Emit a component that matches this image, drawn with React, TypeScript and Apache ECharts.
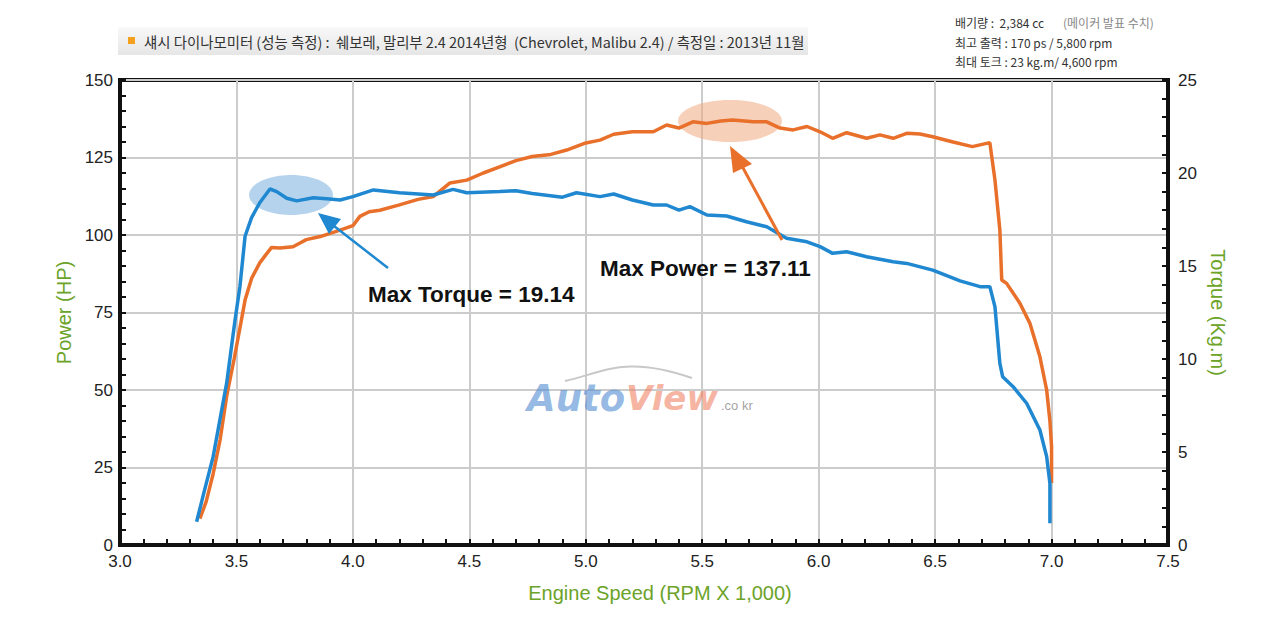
import React, { useEffect, useRef } from "react";
import * as echarts from "echarts";

const powerRpm = [3.343, 3.37, 3.4, 3.43, 3.458, 3.49, 3.515, 3.537, 3.565, 3.6, 3.63, 3.651, 3.687, 3.743, 3.773, 3.8, 3.86, 3.945, 4.0, 4.03, 4.07, 4.116, 4.2, 4.28, 4.345, 4.417, 4.489, 4.56, 4.63, 4.7, 4.77, 4.85, 4.918, 5.0, 5.061, 5.12, 5.2, 5.29, 5.347, 5.4, 5.46, 5.52, 5.58, 5.63, 5.72, 5.777, 5.834, 5.89, 5.95, 6.006, 6.06, 6.12, 6.206, 6.263, 6.32, 6.378, 6.435, 6.49, 6.577, 6.66, 6.735, 6.757, 6.778, 6.786, 6.807, 6.864, 6.907, 6.95, 6.979, 6.993, 7.0, 7.0];
const powerHp = [8.5, 14, 23, 34, 48, 60, 70, 79, 86, 91, 94, 96, 95.8, 96.2, 97.4, 98.5, 99.5, 101.6, 103, 106, 107.5, 108, 109.7, 111.5, 112.4, 116.8, 117.7, 120, 122, 124, 125.3, 126, 127.4, 129.7, 130.6, 132.5, 133.3, 133.3, 135.5, 134.5, 136.5, 136, 136.8, 137.1, 136.5, 136.5, 134.5, 133.9, 135, 133.3, 131.2, 133, 131.2, 132.3, 131.2, 132.8, 132.6, 131.7, 130, 128.5, 129.8, 117.7, 101.6, 85.5, 84.4, 78, 71.5, 60.7, 50, 40, 31.7, 20];

const torqueRpm = [3.329, 3.36, 3.4, 3.43, 3.458, 3.494, 3.515, 3.537, 3.565, 3.6, 3.644, 3.673, 3.716, 3.759, 3.83, 3.9, 3.945, 4.0, 4.088, 4.2, 4.345, 4.43, 4.489, 4.63, 4.7, 4.77, 4.9, 4.96, 5.061, 5.12, 5.2, 5.29, 5.347, 5.4, 5.447, 5.52, 5.605, 5.69, 5.777, 5.862, 5.95, 6.006, 6.06, 6.12, 6.206, 6.32, 6.378, 6.49, 6.607, 6.693, 6.735, 6.757, 6.778, 6.79, 6.835, 6.893, 6.95, 6.979, 6.993, 6.993];
const torqueKgm = [1.25, 2.8, 4.75, 6.8, 8.7, 12.1, 13.9, 16.6, 17.6, 18.4, 19.14, 19.0, 18.64, 18.5, 18.67, 18.6, 18.55, 18.73, 19.09, 18.94, 18.82, 19.12, 18.94, 19.0, 19.05, 18.9, 18.7, 18.94, 18.73, 18.87, 18.55, 18.28, 18.28, 18.0, 18.19, 17.74, 17.69, 17.38, 17.11, 16.49, 16.3, 16.04, 15.68, 15.77, 15.5, 15.23, 15.14, 14.78, 14.2, 13.89, 13.89, 12.8, 9.77, 9.05, 8.51, 7.62, 6.18, 4.75, 3.32, 1.17];

const titleText = "섀시 다이나모미터 (성능 측정) :  쉐보레, 말리부 2.4 2014년형  (Chevrolet, Malibu 2.4) / 측정일 : 2013년 11월";
const specLines = ["배기량 :  2,384 cc", "최고 출력 : 170 ps / 5,800 rpm", "최대 토크 : 23 kg.m/ 4,600 rpm"];
const specNote = "(메이커 발표 수치)";
const torqueNote = "Max Torque = 19.14";
const powerNote = "Max Power = 137.11";

const GREEN = "#6ca329";
const ORANGE = "#e8702a";
const BLUE = "#1f88d0";
const FONT = "Liberation Sans";
const KFONT = "Noto Sans CJK KR";

export default function App() {
  const ref = useRef<HTMLDivElement>(null);
  useEffect(() => {
    if (!ref.current) return;
    const chart = echarts.init(ref.current, null, { renderer: "svg" });
    const axisLabel = { fontSize: 17, color: "#222", fontFamily: FONT };
    const tick = { show: true, inside: true, length: 6, lineStyle: { color: "#111", width: 2 } };
    const minor = { show: true, splitNumber: 5, length: 6, lineStyle: { color: "#111", width: 2 } };
    const nameStyle = { color: GREEN, fontSize: 20, fontFamily: FONT };
    chart.setOption({
      animation: false,
      backgroundColor: "#ffffff",
      textStyle: { fontFamily: FONT },
      grid: { left: 120, right: 112, top: 80, bottom: 76, show: true, borderColor: "#111", borderWidth: 4, backgroundColor: "transparent" },
      xAxis: {
        type: "value", min: 3, max: 7.5, interval: 0.5,
        name: "Engine Speed (RPM X 1,000)", nameLocation: "middle", nameGap: 38,
        nameTextStyle: { ...nameStyle, padding: [0, 0, 0, 32] },
        axisLine: { show: true, lineStyle: { color: "#111", width: 4 } },
        axisTick: tick,
        minorTick: minor,
        axisLabel: { ...axisLabel, margin: 8, formatter: (v: number) => v.toFixed(1) },
        splitLine: { show: true, lineStyle: { color: "#cccccc", width: 2 } },
      },
      yAxis: [
        {
          type: "value", min: 0, max: 150, interval: 25, position: "left",
          name: "Power (HP)", nameLocation: "middle", nameGap: 40, nameRotate: 90,
          nameTextStyle: nameStyle,
          axisLine: { show: true, lineStyle: { color: "#111", width: 4 } },
          axisTick: tick,
          minorTick: minor,
          axisLabel: { ...axisLabel, margin: 7 },
          splitLine: { show: true, lineStyle: { color: "#cccccc", width: 2 } },
        },
        {
          type: "value", min: 0, max: 25, interval: 5, position: "right",
          name: "Torque (Kg.m)", nameLocation: "middle", nameGap: 40, nameRotate: -90,
          nameTextStyle: nameStyle,
          axisLine: { show: true, lineStyle: { color: "#111", width: 4 } },
          axisTick: tick,
          minorTick: minor,
          axisLabel: { ...axisLabel, margin: 10 },
          splitLine: { show: false },
        },
      ],
      series: [
        {
          name: "Power", type: "line", yAxisIndex: 0, showSymbol: false, z: 5,
          lineStyle: { color: ORANGE, width: 3.5 }, itemStyle: { color: ORANGE },
          data: powerRpm.map((r, i) => [r, powerHp[i]]),
        },
        {
          name: "Torque", type: "line", yAxisIndex: 1, showSymbol: false, z: 5,
          lineStyle: { color: BLUE, width: 3.5 }, itemStyle: { color: BLUE },
          data: torqueRpm.map((r, i) => [r, torqueKgm[i]]),
        },
      ],
      graphic: [
        {
          type: "rect", z: 1, shape: { x: 118, y: 27, width: 690, height: 28 },
          style: { fill: new echarts.graphic.LinearGradient(0, 0, 0, 1, [{ offset: 0, color: "#f8f8f8" }, { offset: 1, color: "#e6e6e6" }]) },
        },
        { type: "rect", z: 2, shape: { x: 128, y: 37, width: 7, height: 7 }, style: { fill: "#f5a01f" } },
        { type: "text", z: 2, x: 144, y: 41, style: { text: titleText, fontSize: 14.4, fontFamily: KFONT, fill: "#333", verticalAlign: "middle" } },
        { type: "text", z: 2, x: 955, y: 22, style: { text: specLines[0], fontSize: 12, fontFamily: KFONT, fill: "#333", verticalAlign: "middle" } },
        { type: "text", z: 2, x: 1063, y: 22, style: { text: specNote, fontSize: 12, fontFamily: KFONT, fill: "#888", verticalAlign: "middle" } },
        { type: "text", z: 2, x: 955, y: 42, style: { text: specLines[1], fontSize: 12, fontFamily: KFONT, fill: "#333", verticalAlign: "middle" } },
        { type: "text", z: 2, x: 955, y: 61, style: { text: specLines[2], fontSize: 12, fontFamily: KFONT, fill: "#333", verticalAlign: "middle" } },
        // highlight ellipses
        { type: "ellipse", z: 1, shape: { cx: 291, cy: 195, rx: 42, ry: 20 }, style: { fill: "rgba(120,175,220,0.55)" } },
        { type: "ellipse", z: 1, shape: { cx: 730, cy: 121, rx: 52, ry: 21 }, style: { fill: "rgba(240,170,130,0.55)" } },
        // arrows
        { type: "line", z: 10, shape: { x1: 388, y1: 268, x2: 334, y2: 226 }, style: { stroke: BLUE, lineWidth: 2.5 } },
        { type: "polygon", z: 10, shape: { points: [[318, 213], [341, 219], [329, 234]] }, style: { fill: BLUE } },
        { type: "line", z: 10, shape: { x1: 782, y1: 240, x2: 742, y2: 166 }, style: { stroke: ORANGE, lineWidth: 3 } },
        { type: "polygon", z: 10, shape: { points: [[730, 146], [752, 164], [733, 173]] }, style: { fill: ORANGE } },
        { type: "text", z: 10, x: 368, y: 294, style: { text: torqueNote, fontSize: 22.5, fontWeight: "bold", fontFamily: FONT, fill: "#111", verticalAlign: "middle" } },
        { type: "text", z: 10, x: 600, y: 268, style: { text: powerNote, fontSize: 22.5, fontWeight: "bold", fontFamily: FONT, fill: "#111", verticalAlign: "middle" } },
        // watermark
        { type: "bezierCurve", z: 3, shape: { x1: 565, y1: 381, x2: 692, y2: 378, cpx1: 605, cpy1: 372, cpx2: 625, cpy2: 355 }, style: { stroke: "#c8c8c8", lineWidth: 2, fill: "none" } },
        { type: "text", z: 3, x: 527, y: 398, style: { text: "Auto", fontSize: 37, fontStyle: "italic", fontWeight: "bold", fontFamily: "DejaVu Sans", fill: "rgba(80,140,210,0.6)", verticalAlign: "middle" } },
        { type: "text", z: 3, x: 626, y: 398, style: { text: "View", fontSize: 34, fontStyle: "italic", fontWeight: "bold", fontFamily: "DejaVu Sans", fill: "rgba(240,130,100,0.6)", verticalAlign: "middle" } },
        { type: "text", z: 3, x: 721, y: 405, style: { text: ".co kr", fontSize: 13, fontFamily: FONT, fill: "rgba(120,120,120,0.7)", verticalAlign: "middle" } },
      ],
    });
    return () => chart.dispose();
  }, []);
  return <div ref={ref} style={{ position: "fixed", left: 0, top: 0, width: 1280, height: 621, background: "#fff" }} />;
}
